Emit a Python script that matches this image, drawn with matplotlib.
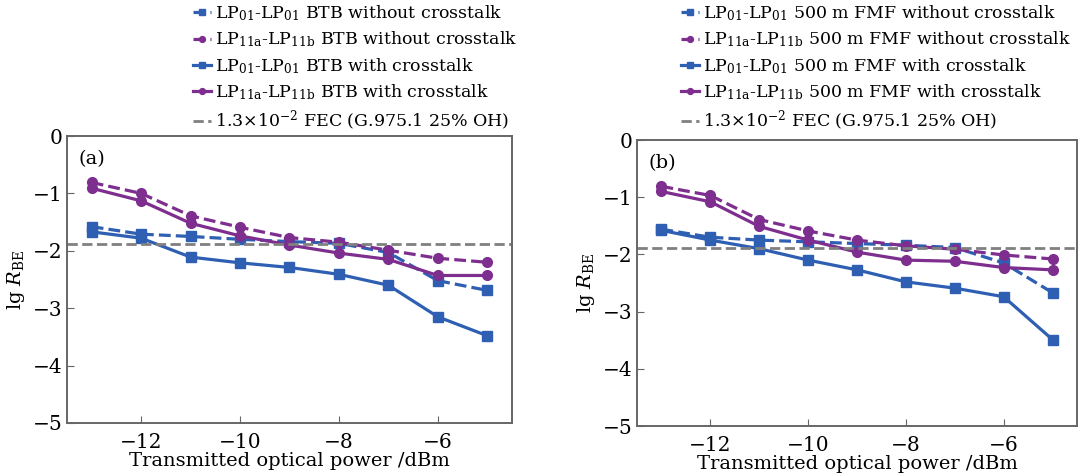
import matplotlib
matplotlib.use('Agg')
import matplotlib.pyplot as plt
import numpy as np

plt.rcParams['font.family'] = ['DejaVu Serif']
plt.rcParams['mathtext.fontset'] = 'dejavuserif'

power = [-13, -12, -11, -10, -9, -8, -7, -6, -5]

# (a) back-to-back
a_lp01_wo = [-1.58, -1.71, -1.75, -1.80, -1.84, -1.87, -2.03, -2.52, -2.69]
a_lp11_wo = [-0.81, -1.00, -1.39, -1.59, -1.77, -1.85, -1.99, -2.13, -2.20]
a_lp01_w = [-1.67, -1.78, -2.11, -2.21, -2.29, -2.41, -2.60, -3.15, -3.48]
a_lp11_w = [-0.91, -1.13, -1.52, -1.74, -1.90, -2.04, -2.15, -2.43, -2.43]

# (b) 500 m FMF
b_lp01_wo = [-1.56, -1.70, -1.75, -1.78, -1.81, -1.84, -1.88, -2.15, -2.67]
b_lp11_wo = [-0.81, -0.97, -1.39, -1.59, -1.75, -1.85, -1.91, -2.01, -2.08]
b_lp01_w = [-1.58, -1.75, -1.90, -2.10, -2.27, -2.48, -2.59, -2.74, -3.49]
b_lp11_w = [-0.90, -1.08, -1.51, -1.75, -1.96, -2.10, -2.12, -2.23, -2.27]

fec = np.log10(1.3e-2)

blue = '#2f5fb3'
purple = '#7d2e8e'
gray = '#808080'

fig = plt.figure(figsize=(10.78, 4.76), dpi=100)
W, H = 1078, 476
axa = fig.add_axes([67/W, 1-423/H, 445/W, 287/H])
axb = fig.add_axes([637/W, 1-426/H, 440/W, 286/H])

def panel(ax, d01wo, d11wo, d01w, d11w, tag, label_mid, leg_x):
    l1, = ax.plot(power, d01wo, '--', color=blue, marker='s', ms=7.5, lw=2.3,
                  label=r'LP$_{\mathrm{01}}$-LP$_{\mathrm{01}}$ ' + label_mid + ' without crosstalk')
    l2, = ax.plot(power, d11wo, '--', color=purple, marker='o', ms=7, lw=2.3,
                  label=r'LP$_{\mathrm{11a}}$-LP$_{\mathrm{11b}}$ ' + label_mid + ' without crosstalk')
    l3, = ax.plot(power, d01w, '-', color=blue, marker='s', ms=7.5, lw=2.3,
                  label=r'LP$_{\mathrm{01}}$-LP$_{\mathrm{01}}$ ' + label_mid + ' with crosstalk')
    l4, = ax.plot(power, d11w, '-', color=purple, marker='o', ms=7, lw=2.3,
                  label=r'LP$_{\mathrm{11a}}$-LP$_{\mathrm{11b}}$ ' + label_mid + ' with crosstalk')
    l5 = ax.axhline(fec, color=gray, ls='--', lw=2,
                    label=r'1.3$\times$10$^{-2}$ FEC (G.975.1 25% OH)')
    ax.set_xlim(-13.5, -4.5)
    ax.set_ylim(-5, 0)
    ax.set_xticks([-12, -10, -8, -6])
    ax.set_yticks([0, -1, -2, -3, -4, -5])
    ax.set_xticklabels(['\u221212', '\u221210', '\u22128', '\u22126'])
    ax.set_yticklabels(['0', '\u22121', '\u22122', '\u22123', '\u22124', '\u22125'])
    ax.tick_params(direction='in', labelsize=14.5, length=5, color='#666666')
    ax.tick_params(axis='x', pad=7)
    for s in ax.spines.values():
        s.set_color('#666666')
        s.set_linewidth(1.4)
    ax.set_xlabel('Transmitted optical power /dBm', fontsize=14, labelpad=0)
    ax.set_ylabel(r'lg $R_{\mathrm{BE}}$', fontsize=14, labelpad=4)
    ax.text(0.025, 0.95, tag, transform=ax.transAxes, fontsize=14, va='top')
    leg = fig.legend(handles=[l1, l2, l3, l4, l5], loc='upper left',
                     bbox_to_anchor=(leg_x / W, 1.0), frameon=False, fontsize=12.5,
                     handlelength=1.0, handletextpad=0.25, labelspacing=0.38,
                     borderpad=0.1, borderaxespad=0.1, markerscale=0.6)
    return leg

panel(axa, a_lp01_wo, a_lp11_wo, a_lp01_w, a_lp11_w, '(a)', 'BTB', 190)
panel(axb, b_lp01_wo, b_lp11_wo, b_lp01_w, b_lp11_w, '(b)', '500 m FMF', 678)

fig.savefig('out.png', dpi=100)
